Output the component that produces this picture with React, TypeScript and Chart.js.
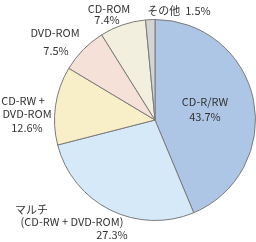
import React, { useEffect, useRef } from "react";
import { Chart, registerables } from "chart.js";

Chart.register(...registerables);

const categories = ["CD-R/RW", "マルチ (CD-RW + DVD-ROM)", "CD-RW + DVD-ROM", "DVD-ROM", "CD-ROM", "その他"];
const values = [43.7, 27.3, 12.6, 7.5, 7.4, 1.5];
const colors = ["#aec6e6", "#d6e9f9", "#f8efc8", "#f6e1d8", "#f3efdf", "#d4d4d4"];

// label lines per slice: [text, dx, dy, align] relative to pie centre
const labelLines: [string, number, number, CanvasTextAlign][][] = [
  [["CD-R/RW", 50, -18, "center"], ["43.7%", 50, -3, "center"]],
  [["マルチ", -140, 90, "left"], ["(CD-RW + DVD-ROM)", -83, 102, "center"], ["27.3%", -43, 115, "center"]],
  [["CD-RW +", -132, -19, "center"], ["DVD-ROM", -128, -6, "center"], ["12.6%", -128, 8, "center"]],
  [["DVD-ROM", -100, -87, "center"], ["7.5%", -99, -69, "center"]],
  [["CD-ROM", -46, -111, "center"], ["7.4%", -48, -100, "center"]],
  [["その他  1.5%", 24, -109, "center"]],
];

const labelPlugin = {
  id: "sliceLabels",
  afterDraw(chart: any) {
    const meta = chart.getDatasetMeta(0);
    const ctx = chart.ctx;
    ctx.save();
    ctx.font = '11px "Noto Sans CJK JP", "Noto Sans", sans-serif';
    ctx.fillStyle = "#333333";
    ctx.textBaseline = "middle";
    meta.data.forEach((arc: any, i: number) => {
      const lines = labelLines[i] || [];
      lines.forEach(([t, dx, dy, align]) => {
        ctx.textAlign = align;
        ctx.fillText(t, arc.x + dx, arc.y + dy);
      });
    });
    ctx.restore();
  },
};

export default function App() {
  const ref = useRef<HTMLCanvasElement>(null);
  useEffect(() => {
    if (!ref.current) return;
    const chart = new Chart(ref.current, {
      type: "pie",
      data: {
        labels: categories,
        datasets: [
          {
            data: values,
            backgroundColor: colors,
            borderColor: "#7a7a7a",
            borderWidth: 1,
            hoverOffset: 0,
          },
        ],
      },
      options: {
        responsive: false,
        animation: false,
        layout: { padding: { left: 54, top: 19, right: 0, bottom: 21 } },
        plugins: { legend: { display: false }, tooltip: { enabled: false } },
      },
      plugins: [labelPlugin],
    });
    return () => chart.destroy();
  }, []);
  return (
    <div style={{ position: "fixed", left: 0, top: 0, width: 256, height: 242, background: "#fff" }}>
      <canvas ref={ref} width={256} height={242} />
    </div>
  );
}
